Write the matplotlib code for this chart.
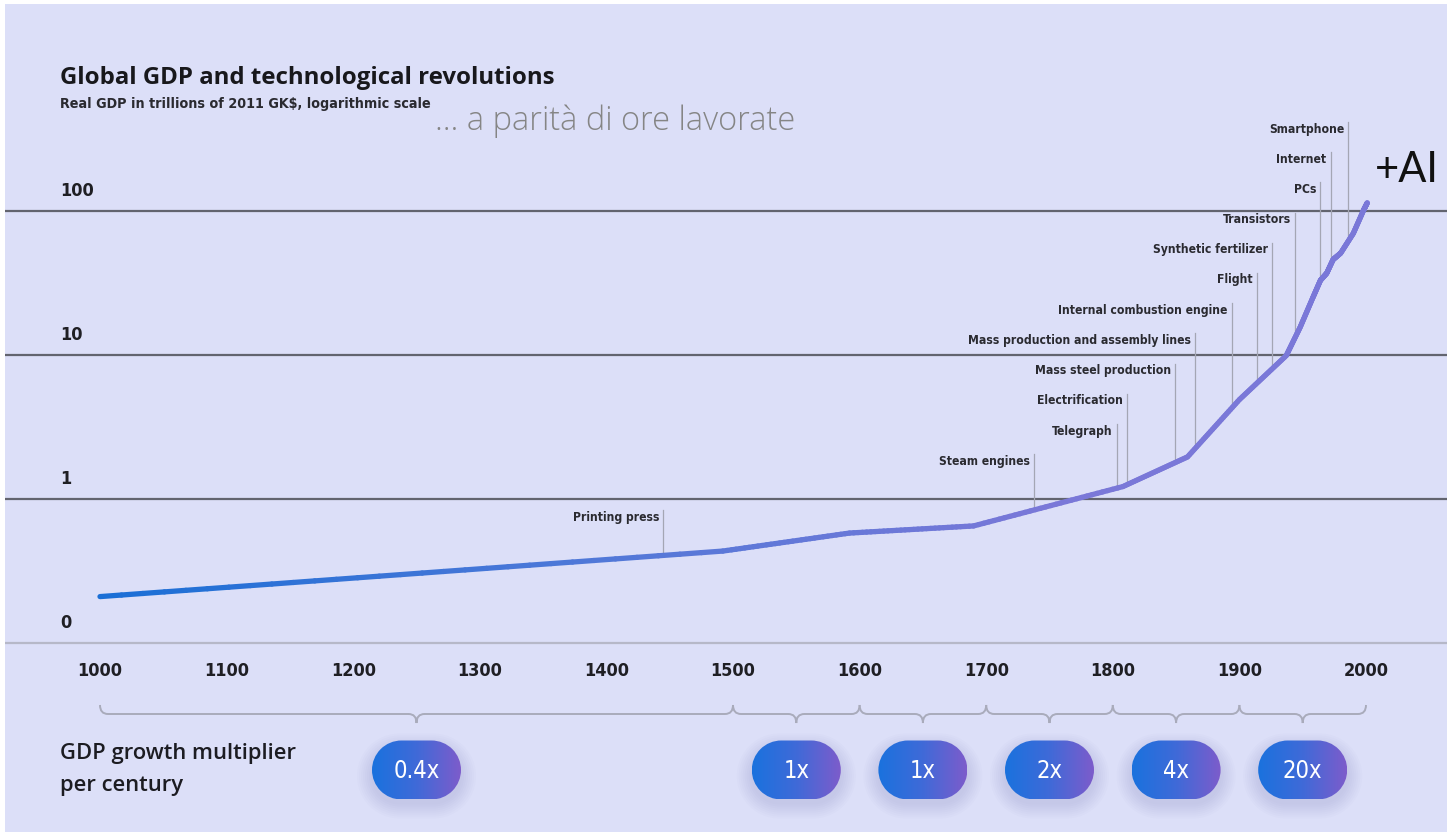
import numpy as np
import matplotlib.pyplot as plt
from matplotlib.collections import LineCollection
from matplotlib.patches import PathPatch
from matplotlib.path import Path
from matplotlib.colors import LinearSegmentedColormap
from matplotlib.transforms import blended_transform_factory

# --- data ---
years = [1000, 1492, 1592, 1690, 1808, 1859, 1900, 1937, 1948, 1958, 1964, 1969, 1974, 1980, 1990, 1998, 2001]
gdp = [0.21, 0.435, 0.58, 0.65, 1.22, 1.96, 4.9, 9.9, 15.6, 25.0, 33.0, 37.0, 46.0, 51.0, 70.0, 101.0, 114.0]

inventions = ["Printing press", "Steam engines", "Telegraph", "Electrification",
              "Mass steel production", "Mass production and assembly lines",
              "Internal combustion engine", "Flight", "Synthetic fertilizer",
              "Transistors", "PCs", "Internet", "Smartphone"]
invention_years = [1445, 1738, 1803, 1811, 1849, 1865, 1894, 1914, 1926, 1944, 1964, 1972, 1986]

centuries = [1000, 1100, 1200, 1300, 1400, 1500, 1600, 1700, 1800, 1900, 2000]
gdp_levels = [0.1, 1, 10, 100]
level_labels = ["0", "1", "10", "100"]

period_start = [1000, 1500, 1600, 1700, 1800, 1900]
period_end = [1500, 1600, 1700, 1800, 1900, 2000]
multipliers = ["0.4x", "1x", "1x", "2x", "4x", "20x"]

# label rows (layout): row 0 is the top label
label_rows = [12.86, 11, 10, 9, 8, 7, 6, 5, 4, 3, 2, 1, 0]

# --- style ---
BG = "#dcdff8"
COND = dict(family="DejaVu Sans", fontstretch="condensed")
W, H = 1447, 832
PX_CENT = 126.6      # pixels per century
DEC = 144.0          # pixels per decade
Y1 = 499.0           # pixel row of GDP = 1


def stadium(x0, y0, w, h):
    r = h / 2
    a1 = Path.arc(-90, 90)
    a2 = Path.arc(90, 270)
    v1 = a1.vertices * r + [x0 + w - r, y0 + r]
    v2 = a2.vertices * r + [x0 + r, y0 + r]
    verts = np.vstack([v1, v2, v1[:1]])
    codes = np.concatenate([a1.codes, a2.codes, [Path.CLOSEPOLY]])
    codes[len(a1.codes)] = Path.LINETO
    return Path(verts, codes)


fig = plt.figure(figsize=(W / 100, H / 100), dpi=100, facecolor="white")
rect = [5 / W, 0, 1 - 5 / W, 1 - 4 / H]
ax = fig.add_axes(rect)
ax.set_facecolor(BG)
ax.set_yscale("log")
ax.set_xlim(1000 - (100 - 5) / PX_CENT * 100, 1000 + (W - 100) / PX_CENT * 100)
ax.set_ylim(10 ** ((Y1 - H) / DEC), 10 ** ((Y1 - 4) / DEC))
for sp in ax.spines.values():
    sp.set_visible(False)
ax.xaxis.set_visible(False)
ax.yaxis.set_visible(False)

# overlay axes in pixel units for decorations
ov = fig.add_axes(rect, facecolor="none")
ov.set_xlim(5, W)
ov.set_ylim(H, 4)
ov.set_autoscale_on(False)
ov.axis("off")
bt = blended_transform_factory(ax.transData, ov.transData)

# gridlines
for v in gdp_levels:
    if v < 1:
        ax.axhline(v, color="#b6b8c8", lw=1.6, zorder=1)
    else:
        ax.axhline(v, color="#62646f", lw=1.6, zorder=1)

# y labels
for v, lab in zip(gdp_levels, level_labels):
    ax.annotate(lab, xy=(0, v), xycoords=blended_transform_factory(ax.transAxes, ax.transData),
                xytext=(55 * 0.72, 11 * 0.72), textcoords="offset points",
                ha="left", va="bottom", fontsize=13, fontweight="bold",
                color="#1f1f24", **COND)

# x labels
for c in centuries:
    ax.text(c, 671, str(c), transform=bt, ha="center", va="center",
            fontsize=13, fontweight="bold", color="#1f1f24", **COND)

# gdp curve with gradient
ly = np.log10(gdp)
line_cmap = LinearSegmentedColormap.from_list("gdp", ["#1b6fd6", "#4f78d8", "#7a78d8"])
segs, cvals = [], []
for i in range(len(years) - 1):
    t = np.linspace(0, 1, 30)
    sx = years[i] + t * (years[i + 1] - years[i])
    sy = 10 ** (ly[i] + t * (ly[i + 1] - ly[i]))
    for j in range(len(t) - 1):
        segs.append([(sx[j], sy[j]), (sx[j + 1], sy[j + 1])])
        cvals.append(np.clip((sx[j] - 1000) / 750, 0, 1))
lc = LineCollection(segs, colors=line_cmap(np.array(cvals)), linewidths=3.8,
                    capstyle="round", joinstyle="round", zorder=4)
ax.add_collection(lc)

# invention markers
for name, yr, row in zip(inventions, invention_years, label_rows):
    center = (Y1 - (129 + row * 30.2)) / DEC
    base = 10 ** np.interp(yr, years, ly)
    top = 10 ** (center + 7 / DEC)
    ax.plot([yr, yr], [base, top], color="#a4a6b4", lw=0.9, zorder=2)
    ax.annotate(name, xy=(yr, 10 ** center), xytext=(-4 * 0.72, 0),
                textcoords="offset points", ha="right", va="center",
                fontsize=8.7, fontweight="bold", color="#2a2a30", **COND)

# braces under the axis
for a, b in zip(period_start, period_end):
    r = 8 / PX_CENT * 100
    m = (a + b) / 2
    verts = [(a, 705), (a, 714), (a + r, 714), (m - r, 714), (m, 714), (m, 723),
             (m, 714), (m + r, 714), (b - r, 714), (b, 714), (b, 705)]
    codes = [Path.MOVETO, Path.CURVE3, Path.CURVE3, Path.LINETO, Path.CURVE3, Path.CURVE3,
             Path.CURVE3, Path.CURVE3, Path.LINETO, Path.CURVE3, Path.CURVE3]
    ov.add_patch(PathPatch(Path(verts, codes), transform=bt, fill=False,
                           edgecolor="#a9abbb", lw=1.4))

# multiplier pills
pill_cmap = LinearSegmentedColormap.from_list("pill", ["#1a72de", "#3f6ad8", "#7d5ccb"])
grad = np.linspace(0, 1, 256).reshape(1, -1)
pw, ph, pcy = 89, 59, 770
for a, b, lab in zip(period_start, period_end, multipliers):
    cx = ax.transData.transform(((a + b) / 2, 1))[0]
    x0, y0 = cx - pw / 2, pcy - ph / 2
    for k in range(8):
        e = 1 + k * 2.0
        ov.add_patch(PathPatch(stadium(x0 - e, y0 - e + 8, pw + 2 * e, ph + 2 * e - 4),
                               facecolor="#7476b8", edgecolor="none", alpha=0.022, zorder=3))
    pill = PathPatch(stadium(x0, y0, pw, ph), facecolor="none", edgecolor="none", zorder=4)
    ov.add_patch(pill)
    im = ov.imshow(grad, cmap=pill_cmap, extent=(x0, x0 + pw, y0 + ph, y0),
                   aspect="auto", zorder=4, interpolation="bilinear")
    im.set_clip_path(pill)
    ov.text(cx, pcy + 1, lab, ha="center", va="center", fontsize=17,
            color="white", zorder=5, **COND)
ov.set_xlim(5, W)
ov.set_ylim(H, 4)

# texts
ov.text(60, 78, "Global GDP and technological revolutions", ha="left", va="center",
        fontsize=17.3, fontweight="bold", family=["Open Sans", "DejaVu Sans"], color="#18181c")
ov.text(60, 104, "Real GDP in trillions of 2011 GK$, logarithmic scale", ha="left", va="center",
        fontsize=10.3, fontweight="bold", color="#2a2a30", **COND)
ov.text(435, 121, "… a parità di ore lavorate", ha="left", va="center",
        fontsize=23.5, family=["Open Sans", "DejaVu Sans"], fontweight="light", color="#858585")
ov.text(1375, 170, "+AI", ha="left", va="center", fontsize=30,
        family=["Lato", "DejaVu Sans"], color="#111111")
ov.text(60, 753, "GDP growth multiplier", ha="left", va="center", fontsize=15.8,
        fontweight="semibold", family=["Open Sans", "DejaVu Sans"], color="#1c1c22")
ov.text(60, 785, "per century", ha="left", va="center", fontsize=15.8,
        fontweight="semibold", family=["Open Sans", "DejaVu Sans"], color="#1c1c22")

fig.savefig("out.png", dpi=100, facecolor="white")
